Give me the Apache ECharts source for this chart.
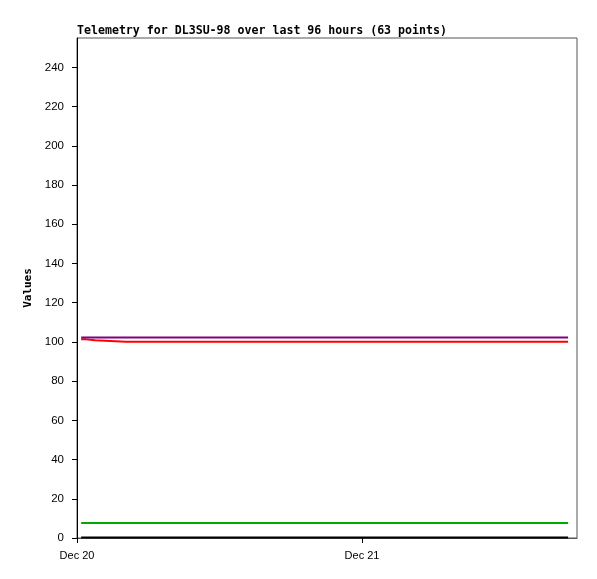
<!DOCTYPE html>
<html>
<head>
<meta charset="utf-8">
<style>
html,body{margin:0;padding:0;background:#fff;}
#chart{width:597px;height:579px;}
</style>
<script src="https://cdn.jsdelivr.net/npm/echarts@6/dist/echarts.min.js"></script>
</head>
<body>
<div id="chart"></div>
<script>
// hours since Dec 20 00:00
var times = [0.35, 0.76, 1.52, 4.1, 7.8, 11.5, 15.2, 19.0, 22.6, 26.3, 30.1, 33.8, 37.6, 41.35];
var purpleVals = [102.3, 102.3, 102.3, 102.3, 102.3, 102.3, 102.3, 102.3, 102.3, 102.3, 102.3, 102.3, 102.3, 102.3];
var greenVals = [7.7, 7.7, 7.7, 7.7, 7.7, 7.7, 7.7, 7.7, 7.7, 7.7, 7.7, 7.7, 7.7, 7.7];
var blackVals = [0.3, 0.3, 0.3, 0.3, 0.3, 0.3, 0.3, 0.3, 0.3, 0.3, 0.3, 0.3, 0.3, 0.3];
// red series drawn as a staircase
var redTimes = [0.35, 0.76, 0.76, 1.52, 1.52, 4.1, 7.8, 11.5, 15.2, 19.0, 22.6, 26.3, 30.1, 33.8, 37.6, 41.35];
var redVals = [101.3, 101.3, 100.8, 100.8, 100.1, 100.1, 100.1, 100.1, 100.1, 100.1, 100.1, 100.1, 100.1, 100.1, 100.1, 100.1];
var xTickHours = [0, 24];
var xTickLabels = ['Dec 20', 'Dec 21'];
var yTicks = [0, 20, 40, 60, 80, 100, 120, 140, 160, 180, 200, 220, 240];

function pairs(ts, vals) {
  return ts.map(function (t, i) { return [t, vals[i]]; });
}

var chart = echarts.init(document.getElementById('chart'));
chart.setOption({
  animation: false,
  backgroundColor: '#fff',
  title: {
    text: 'Telemetry for DL3SU-98 over last 96 hours (63 points)',
    left: 77, top: 25, padding: 0,
    textStyle: { fontFamily: 'DejaVu Sans Mono', fontWeight: 'bold', fontSize: 11.6, color: '#000' }
  },
  grid: { left: 77, right: 20, top: 38, bottom: 41, show: true, borderColor: '#555', borderWidth: 1 },
  xAxis: {
    type: 'value', min: 0, max: 42.1,
    axisLine: { show: true, lineStyle: { color: '#555', width: 1 } },
    axisTick: { show: true, length: 5, lineStyle: { color: '#000' }, customValues: xTickHours },
    axisLabel: {
      customValues: xTickHours, margin: 12,
      fontFamily: 'Liberation Sans', fontSize: 11, color: '#000',
      formatter: function (v) { var i = xTickHours.indexOf(v); return i >= 0 ? xTickLabels[i] : ''; }
    },
    splitLine: { show: false }
  },
  yAxis: {
    type: 'value', min: 0, max: 255,
    name: 'Values', nameLocation: 'middle', nameGap: 33,
    nameTextStyle: { fontFamily: 'DejaVu Sans Mono', fontWeight: 'bold', fontSize: 11, color: '#000' },
    axisLine: { show: true, lineStyle: { color: '#000', width: 1 } },
    axisTick: { show: true, length: 5, lineStyle: { color: '#000' }, customValues: yTicks },
    axisLabel: { customValues: yTicks, margin: 13, fontFamily: 'Liberation Sans', fontSize: 11.5, color: '#000' },
    splitLine: { show: false }
  },
  series: [
    { type: 'line', data: pairs(times, blackVals), showSymbol: false, lineStyle: { color: '#000', width: 2 }, itemStyle: { color: '#000' } },
    { type: 'line', data: pairs(times, greenVals), showSymbol: false, lineStyle: { color: '#00aa00', width: 2 }, itemStyle: { color: '#00aa00' } },
    { type: 'line', data: pairs(redTimes, redVals), showSymbol: false, lineStyle: { color: '#ff0000', width: 2 }, itemStyle: { color: '#ff0000' } },
    { type: 'line', data: pairs(times, purpleVals), showSymbol: false, lineStyle: { color: '#800080', width: 2 }, itemStyle: { color: '#800080' } }
  ]
});
</script>
</body>
</html>
